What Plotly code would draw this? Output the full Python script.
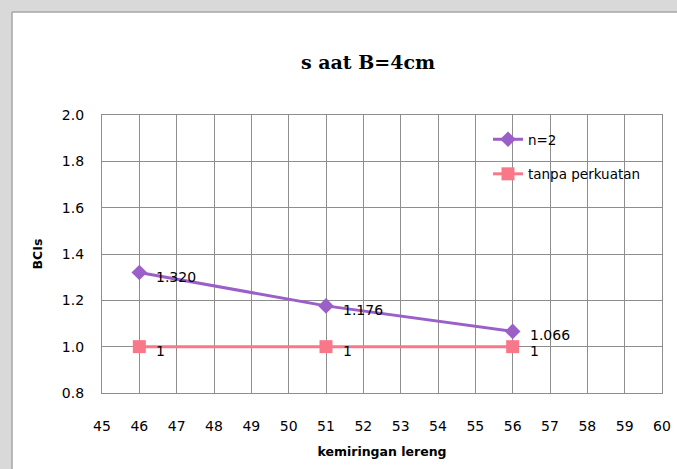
import plotly.graph_objects as go

# Slope angle (degrees) and bearing-capacity improvement ratio
kemiringan = [46, 51, 56]
bci_n2 = [1.320, 1.176, 1.066]
bci_tanpa = [1, 1, 1]
label_n2 = ["1.320", "1.176", "1.066"]
label_tanpa = ["1", "1", "1"]

x_ticks = list(range(45, 61))
y_ticks = [0.8, 1.0, 1.2, 1.4, 1.6, 1.8, 2.0]

W, H = 677, 469
L, R, T, B = 102, 15, 115, 76

purple = "#9b5fc8"
pink = "#f8788a"
grid = "#8e8e8e"
page = "#d9d9d9"
sans = "DejaVu Sans, Verdana, sans-serif"
tick_font = dict(family=sans, size=14, color="#000000")

fig = go.Figure()

fig.add_trace(go.Scatter(
    x=kemiringan, y=bci_n2, name="n=2", mode="lines+markers",
    line=dict(color=purple, width=3),
    marker=dict(symbol="diamond", size=12, color=purple),
    legendgroup="a",
))
fig.add_trace(go.Scatter(
    x=kemiringan, y=bci_tanpa, name="tanpa perkuatan", mode="lines+markers",
    line=dict(color=pink, width=3),
    marker=dict(symbol="square", size=13, color=pink),
    legendgroup="b",
))

# value labels beside each point
for xs, ys, labels in [(kemiringan, bci_n2, label_n2), (kemiringan, bci_tanpa, label_tanpa)]:
    for xv, yv, t in zip(xs, ys, labels):
        fig.add_annotation(
            x=xv, y=yv, text=t, showarrow=False, xanchor="left", yanchor="middle",
            xshift=15, yshift=-4, font=tick_font,
        )

# grey page strips along the top and left of the white chart frame
px = lambda p: (p - L) / (W - L - R)
py = lambda p: (H - B - p) / (H - T - B)
fig.add_shape(type="rect", xref="paper", yref="paper", layer="below",
              x0=px(0), x1=px(W), y0=py(12), y1=py(0),
              fillcolor=page, line=dict(width=0))
fig.add_shape(type="rect", xref="paper", yref="paper", layer="below",
              x0=px(0), x1=px(12), y0=py(H), y1=py(0),
              fillcolor=page, line=dict(width=0))
fig.add_shape(type="line", xref="paper", yref="paper", layer="below",
              x0=px(12), x1=px(W), y0=py(12), y1=py(12),
              line=dict(color="#a6a6a6", width=1.5))
fig.add_shape(type="line", xref="paper", yref="paper", layer="below",
              x0=px(12), x1=px(12), y0=py(12), y1=py(H),
              line=dict(color="#a6a6a6", width=1.5))

fig.update_layout(
    width=W, height=H,
    margin=dict(l=L, r=R, t=T, b=B, autoexpand=False),
    paper_bgcolor="#ffffff",
    plot_bgcolor="rgba(0,0,0,0)",
    title=dict(
        text="<b>s aat B=4cm</b>", xref="paper", x=px(368), xanchor="center",
        yref="container", y=1 - 62 / H, yanchor="middle",
        font=dict(family="DejaVu Serif, Liberation Serif, serif", size=19, color="#000000"),
    ),
    xaxis=dict(
        range=[45, 60], tickvals=x_ticks, ticktext=[str(v) for v in x_ticks],
        showgrid=True, gridcolor=grid, gridwidth=1.2,
        showline=True, linecolor=grid, linewidth=1.2, mirror=True,
        ticks="", ticklen=0, tickfont=tick_font, zeroline=False, ticklabelstandoff=20,
        title=dict(text="<b>kemiringan lereng</b>", font=dict(family=sans, size=12.5, color="#000000"), standoff=14),
    ),
    yaxis=dict(
        range=[0.8, 2.0], tickvals=y_ticks, ticktext=[f"{v:.1f}" for v in y_ticks],
        showgrid=True, gridcolor=grid, gridwidth=1.2,
        showline=True, linecolor=grid, linewidth=1.2, mirror=True,
        ticks="", tickfont=tick_font, zeroline=False, ticklabelstandoff=14,
        title=dict(text="<b>BCIs</b>", font=dict(family=sans, size=12.5, color="#000000"), standoff=16),
    ),
    legend=dict(
        x=px(488), y=py(124), xanchor="left", yanchor="top",
        bgcolor="rgba(0,0,0,0)", font=dict(family=sans, size=13.5, color="#000000"),
        tracegroupgap=14, itemwidth=30,
    ),
    showlegend=True,
)

fig.write_html(
    "out.html",
    post_script=(
        "document.documentElement.style.overflow='hidden';"
        "document.body.style.margin='0';document.body.style.overflow='hidden';"
    ),
)
